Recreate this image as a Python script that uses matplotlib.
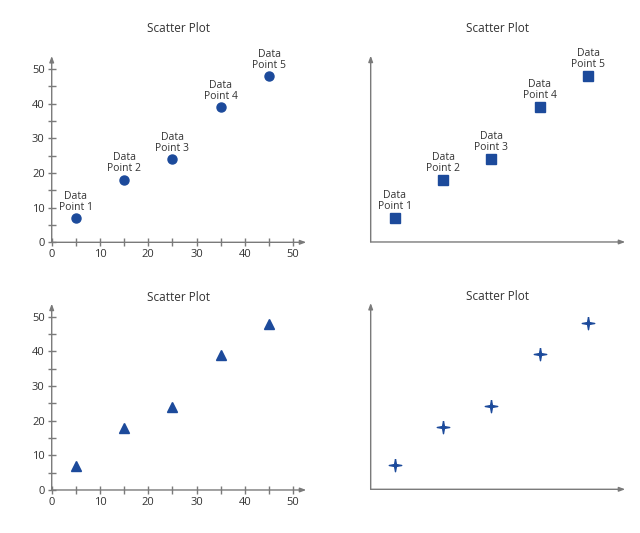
import matplotlib.pyplot as plt
from matplotlib.ticker import MultipleLocator

# data
x_vals = [5, 15, 25, 35, 45]
y_vals = [7, 18, 24, 39, 48]
point_labels = ["Data\nPoint 1", "Data\nPoint 2", "Data\nPoint 3", "Data\nPoint 4", "Data\nPoint 5"]
title = "Scatter Plot"

star4 = [(0, 1), (0.15, 0.15), (1, 0), (0.15, -0.15), (0, -1), (-0.15, -0.15), (-1, 0), (-0.15, 0.15), (0, 1)]

BLUE = "#1c4a9b"
AXIS = "#7a7a7a"
TEXT = "#333333"

plt.rcParams["font.family"] = ["Open Sans", "DejaVu Sans"]

fig = plt.figure(figsize=(6.4, 5.33), dpi=100)

w, h = 0.3977, 0.3495
panels = [
    # left, bottom, marker, size, ticks, labels, title pad
    (0.0808, 0.5454, "o", 6.5, True, True, 17),
    (0.5792, 0.5460, "s", 7.2, False, True, 17),
    (0.0808, 0.0807, "^", 7.5, True, False, 2),
    (0.5792, 0.0820, star4, 9, False, False, 2),
]


def draw_axes_arrows(ax):
    for end in [(1, 0), (0, 1)]:
        ax.annotate("", xy=end, xytext=(0, 0), xycoords="axes fraction",
                    arrowprops=dict(arrowstyle="-|>,head_length=0.35,head_width=0.13",
                                    color=AXIS, lw=1.0, shrinkA=0, shrinkB=0),
                    annotation_clip=False)


for left, bottom, marker, ms, ticks, labels, pad in panels:
    ax = fig.add_axes([left, bottom, w, h])
    ax.plot(x_vals, y_vals, linestyle="none", marker=marker, markersize=ms,
            color=BLUE, markeredgecolor=BLUE, clip_on=False)
    ax.set_xlim(0, 52.7)
    ax.set_ylim(0, 53.8)
    for s in ax.spines.values():
        s.set_visible(False)
    draw_axes_arrows(ax)
    ax.set_title(title, fontsize=8.5, color=TEXT, pad=pad)

    if ticks:
        ax.xaxis.set_major_locator(MultipleLocator(10))
        ax.xaxis.set_minor_locator(MultipleLocator(5))
        ax.yaxis.set_major_locator(MultipleLocator(10))
        ax.yaxis.set_minor_locator(MultipleLocator(5))
        ax.tick_params(which="both", direction="inout", length=6, width=1,
                       color=AXIS, labelsize=8, labelcolor=TEXT, pad=2)
    else:
        ax.set_xticks([])
        ax.set_yticks([])

    if labels:
        for x, y, lab in zip(x_vals, y_vals, point_labels):
            ax.annotate(lab, (x, y), xytext=(0, 4), textcoords="offset points",
                        ha="center", va="bottom", fontsize=7.5, color=TEXT,
                        linespacing=1.0, annotation_clip=False)

fig.savefig("out.png", dpi=100)
